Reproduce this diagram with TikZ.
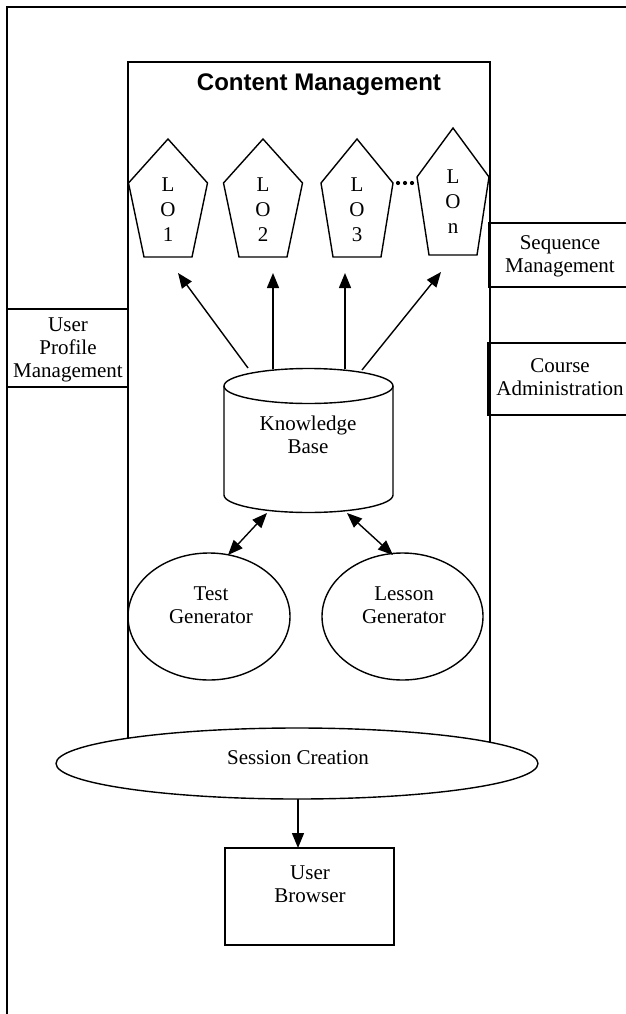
\documentclass[tikz,border=0pt]{standalone}
\usepackage{fontspec}
\setmainfont{Liberation Serif}
\newfontfamily\titlefont{Liberation Sans}
\usetikzlibrary{arrows.meta}
\newcommand\lopent[5]{%
  \draw (#1,#2) -- ({#1+#5},#3) -- ({#1+24},#4) -- ({#1-24},#4) -- ({#1-#5},#3) -- cycle;}
\begin{document}
\begin{tikzpicture}[x=1pt,y=-1pt,line width=1.4pt,
  txt/.style={align=center,inner sep=0pt,font=\fontsize{21}{23}\selectfont},
  lotxt/.style={align=center,inner sep=0pt,font=\fontsize{21}{25}\selectfont},
  arr/.style={-{Triangle[length=15pt,width=12pt]}},
  darr/.style={{Triangle[length=15pt,width=12pt]}-{Triangle[length=15pt,width=12pt]}},
  frame/.style={line width=2pt}]
\useasboundingbox (0,0) rectangle (626,1014);
% outer frame
\draw[frame] (7,1030) -- (7,7) -- (640,7);
% content management
\draw (128,62) rectangle (490,775);
\node[inner sep=0pt,anchor=base,font=\titlefont\bfseries\fontsize{24}{27}\selectfont] (title) at (319,91) {Content Management};
% side boxes
\draw (7,309) rectangle (128,387);
\node[txt] (upm) at (68,350) {User\\Profile\\Management};
\draw (489,223) rectangle (640,287);
\node[txt] (seq) at (560,256) {Sequence\\Management};
\draw (488,343) rectangle (640,415);
\node[txt] (course) at (560,377) {Course\\Administration};
% learning objects
\lopent{168}{139}{183}{257}{39.5}
\lopent{263}{139}{183}{257}{39.5}
\lopent{357}{139}{183}{257}{36}
\lopent{453}{128}{177}{255}{36}
\node[lotxt] (lo1) at (168,210) {L\\O\\1};
\node[lotxt] (lo2) at (263,210) {L\\O\\2};
\node[lotxt] (lo3) at (357,210) {L\\O\\3};
\node[lotxt] (lon) at (453,202) {L\\O\\n};
\foreach \dx in {398,405,412} \fill (\dx,183) circle (2.1);
% knowledge base cylinder
\draw (224,386) -- (224,495) arc (180:0:84.5 and 17.5) -- (393,386);
\draw (308.5,386) ellipse (84.5 and 17.5);
\node[txt] (kb) at (308,435) {Knowledge\\Base};
% arrows to LOs
\coordinate (k1) at (248,368); \coordinate (t1) at (178,273);
\coordinate (k2) at (273,369); \coordinate (t2) at (273,273);
\coordinate (k3) at (345,369); \coordinate (t3) at (345,273);
\coordinate (k4) at (362,370); \coordinate (t4) at (441,272);
\draw[arr] (k1) -- (t1);
\draw[arr] (k2) -- (t2);
\draw[arr] (k3) -- (t3);
\draw[arr] (k4) -- (t4);
% generators
\draw (209,616.5) ellipse (81 and 63.5);
\node[txt] (test) at (211,605) {Test\\Generator};
\draw (402.5,616.5) ellipse (80.5 and 63.5);
\node[txt] (lesson) at (404,605) {Lesson\\Generator};
\coordinate (kbl) at (267,513); \coordinate (tgt) at (228,555);
\coordinate (kbr) at (347,513); \coordinate (lgt) at (393,555);
\draw[darr] (kbl) -- (tgt);
\draw[darr] (kbr) -- (lgt);
% session creation
\draw[fill=white] (297,763.5) ellipse (241 and 35.5);
\node[txt] (session) at (298,758) {Session Creation};
\coordinate (sb) at (298,799);
% user browser
\draw (225,848) rectangle (394,945);
\node[txt] (browser) at (310,884) {User\\Browser};
\coordinate (bt) at (298,848);
\draw[arr] (sb) -- (bt);
\end{tikzpicture}
\end{document}
